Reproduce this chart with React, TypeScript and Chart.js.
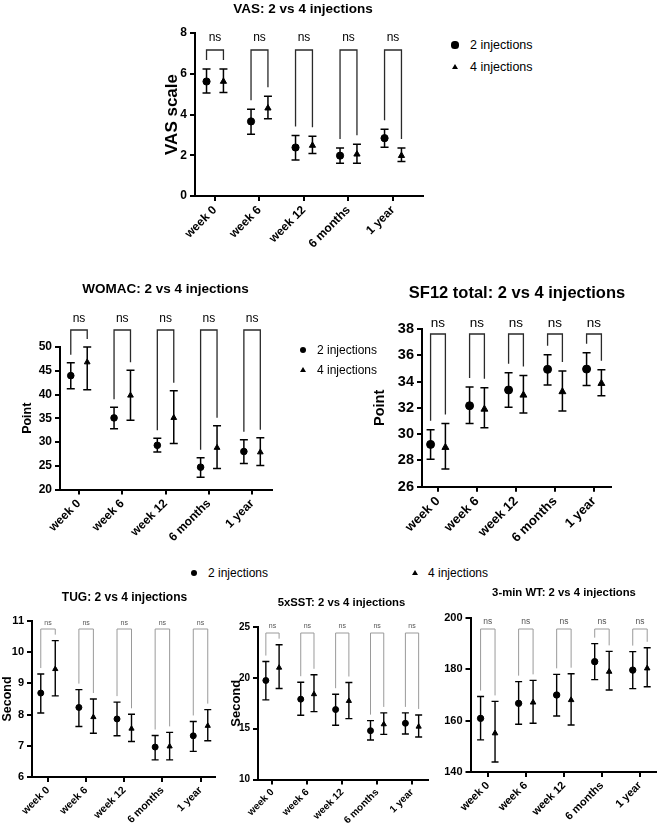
import React, { useEffect, useRef } from "react";
import { Chart, registerables } from "chart.js";

Chart.register(...registerables);

const FONT = "'Liberation Sans', Arial, Helvetica, sans-serif";
Chart.defaults.font.family = FONT;
Chart.defaults.color = "#000";

// ---------- data ----------
const categories = ["week 0", "week 6", "week 12", "6 months", "1 year"];
const seriesLabels = ["2 injections", "4 injections"];
const sigLabels = ["ns", "ns", "ns", "ns", "ns"];

// VAS
const vasTwoMean = [5.62, 3.66, 2.38, 1.98, 2.84];
const vasTwoLow = [5.05, 3.03, 1.77, 1.61, 2.39];
const vasTwoHigh = [6.23, 4.26, 2.97, 2.36, 3.28];
const vasFourMean = [5.62, 4.31, 2.48, 2.05, 1.98];
const vasFourLow = [5.08, 3.79, 2.08, 1.61, 1.69];
const vasFourHigh = [6.23, 4.89, 2.93, 2.54, 2.36];

// WOMAC
const womacTwoMean = [43.97, 35.07, 29.3, 24.7, 28.0];
const womacTwoLow = [41.2, 32.8, 27.9, 22.6, 25.5];
const womacTwoHigh = [46.7, 37.3, 30.8, 26.7, 30.5];
const womacFourMean = [46.8, 39.8, 35.1, 28.8, 27.85];
const womacFourLow = [41.0, 34.6, 29.7, 24.4, 25.05];
const womacFourHigh = [50.0, 45.1, 40.8, 33.4, 30.9];

// SF12 total
const sfTwoMean = [29.22, 32.16, 33.36, 34.93, 34.95];
const sfTwoLow = [28.08, 30.8, 32.04, 33.74, 33.71];
const sfTwoHigh = [30.33, 33.58, 34.68, 36.05, 36.2];
const sfFourMean = [28.99, 31.9, 32.97, 33.23, 33.86];
const sfFourLow = [27.34, 30.49, 31.6, 31.76, 32.92];
const sfFourHigh = [30.8, 33.53, 34.47, 34.8, 34.9];

// TUG
const tugTwoMean = [8.69, 8.23, 7.86, 6.96, 7.32];
const tugTwoLow = [8.05, 7.62, 7.32, 6.55, 6.82];
const tugTwoHigh = [9.3, 8.8, 8.4, 7.33, 7.78];
const tugFourMean = [9.46, 7.92, 7.55, 6.98, 7.64];
const tugFourLow = [8.6, 7.4, 7.14, 6.55, 7.16];
const tugFourHigh = [10.37, 8.5, 8.01, 7.43, 8.16];

// 5xSST
const sstTwoMean = [19.74, 17.9, 16.88, 14.8, 15.53];
const sstTwoLow = [17.83, 16.32, 15.33, 13.88, 14.47];
const sstTwoHigh = [21.6, 19.57, 18.39, 15.79, 16.55];
const sstFourMean = [21.0, 18.39, 17.73, 15.43, 15.2];
const sstFourLow = [18.95, 16.68, 15.99, 14.44, 14.18];
const sstFourHigh = [23.26, 20.3, 19.54, 16.55, 16.35];

// 3-min WT
const wtTwoMean = [160.9, 166.75, 170.0, 183.0, 179.7];
const wtTwoLow = [152.5, 158.6, 161.8, 176.0, 172.5];
const wtTwoHigh = [169.4, 175.2, 178.05, 190.0, 186.9];
const wtFourMean = [155.1, 167.1, 168.05, 179.1, 180.4];
const wtFourLow = [143.9, 159.0, 158.3, 171.95, 173.2];
const wtFourHigh = [167.5, 175.7, 178.3, 187.0, 188.4];

// ---------- layout ----------
const DODGE = 0.19;

type Series = { mean: number[]; low: number[]; high: number[] };
type Box = { left: number; top: number; width: number; height: number };
type Area = { left: number; right: number; top: number; bottom: number };

interface PanelSpec {
  id: string;
  title: string;
  yTitle?: string;
  two: Series;
  four: Series;
  yMin: number;
  yMax: number;
  yStep: number;
  xMin: number;
  xMax: number;
  canvas: Box;
  area: Area;
  titleX: number;
  titleY: number;
  titleSize: number;
  yTitleX: number;
  yTitleSize: number;
  yTickSize: number;
  xTickSize: number;
  bracketTop: number;
  nsY: number;
  legGap: number;
  bracketColor: string;
  bracketWidth: number;
  nsSize: number;
  nsColor: string;
  pointRadius: number;
  capHalf: number;
  errWidth: number;
  axisWidth: number;
}

const topStyle = {
  bracketColor: "#2a2a2a",
  bracketWidth: 1.3,
  nsColor: "#000",
  capHalf: 4,
  errWidth: 1.5,
  axisWidth: 2,
  legGap: 9,
};
const bottomStyle = {
  bracketColor: "#9a9a9a",
  bracketWidth: 1,
  nsColor: "#555",
  capHalf: 3.5,
  errWidth: 1.4,
  axisWidth: 2,
  legGap: 6,
};

const panels: PanelSpec[] = [
  {
    id: "vas",
    title: "VAS: 2 vs 4 injections",
    yTitle: "VAS scale",
    two: { mean: vasTwoMean, low: vasTwoLow, high: vasTwoHigh },
    four: { mean: vasFourMean, low: vasFourLow, high: vasFourHigh },
    yMin: 0, yMax: 8, yStep: 2,
    xMin: -0.449, xMax: 4.674,
    canvas: { left: 150, top: 0, width: 300, height: 262 },
    area: { left: 195, right: 423, top: 33, bottom: 196 },
    titleX: 303, titleY: 9, titleSize: 13.5,
    yTitleX: 172, yTitleSize: 17,
    yTickSize: 12, xTickSize: 12,
    bracketTop: 17, nsY: 5, nsSize: 12,
    pointRadius: 3.6,
    ...topStyle,
  },
  {
    id: "womac",
    title: "WOMAC: 2 vs 4 injections",
    yTitle: "Point",
    two: { mean: womacTwoMean, low: womacTwoLow, high: womacTwoHigh },
    four: { mean: womacFourMean, low: womacFourLow, high: womacFourHigh },
    yMin: 20, yMax: 50, yStep: 5,
    xMin: -0.439, xMax: 4.46,
    canvas: { left: 0, top: 270, width: 300, height: 290 },
    area: { left: 60, right: 272, top: 347, bottom: 489.5 },
    titleX: 165.5, titleY: 289, titleSize: 13.5,
    yTitleX: 28, yTitleSize: 12.5,
    yTickSize: 12, xTickSize: 12,
    bracketTop: -17, nsY: -28, nsSize: 12,
    pointRadius: 3.3,
    ...topStyle,
    legGap: 8,
  },
  {
    id: "sf12",
    title: "SF12 total: 2 vs 4 injections",
    yTitle: "Point",
    two: { mean: sfTwoMean, low: sfTwoLow, high: sfTwoHigh },
    four: { mean: sfFourMean, low: sfFourLow, high: sfFourHigh },
    yMin: 26, yMax: 38, yStep: 2,
    xMin: -0.41, xMax: 4.436,
    canvas: { left: 340, top: 270, width: 300, height: 290 },
    area: { left: 422, right: 611, top: 329, bottom: 486.7 },
    titleX: 517, titleY: 293, titleSize: 16.5,
    yTitleX: 380, yTitleSize: 14.5,
    yTickSize: 14.5, xTickSize: 13,
    bracketTop: 5, nsY: -6, nsSize: 13.5,
    pointRadius: 4,
    ...topStyle,
  },
  {
    id: "tug",
    title: "TUG: 2 vs 4 injections",
    yTitle: "Second",
    two: { mean: tugTwoMean, low: tugTwoLow, high: tugTwoHigh },
    four: { mean: tugFourMean, low: tugFourLow, high: tugFourHigh },
    yMin: 6, yMax: 11, yStep: 1,
    xMin: -0.42, xMax: 4.38,
    canvas: { left: 0, top: 580, width: 225, height: 247 },
    area: { left: 32, right: 215, top: 621, bottom: 777 },
    titleX: 124.5, titleY: 598, titleSize: 12,
    yTitleX: 8, yTitleSize: 12.5,
    yTickSize: 11, xTickSize: 10.5,
    bracketTop: 8, nsY: 2, nsSize: 7,
    pointRadius: 3,
    ...bottomStyle,
  },
  {
    id: "sst",
    title: "5xSST: 2 vs 4 injections",
    yTitle: "Second",
    two: { mean: sstTwoMean, low: sstTwoLow, high: sstTwoHigh },
    four: { mean: sstFourMean, low: sstFourLow, high: sstFourHigh },
    yMin: 10, yMax: 25, yStep: 5,
    xMin: -0.415, xMax: 4.458,
    canvas: { left: 225, top: 580, width: 215, height: 247 },
    area: { left: 258, right: 428, top: 627, bottom: 779.5 },
    titleX: 341.5, titleY: 603, titleSize: 11.3,
    yTitleX: 236, yTitleSize: 13,
    yTickSize: 10, xTickSize: 10,
    bracketTop: 6, nsY: -1, nsSize: 7,
    pointRadius: 3,
    ...bottomStyle,
  },
  {
    id: "wt",
    title: "3-min WT: 2 vs 4 injections",
    two: { mean: wtTwoMean, low: wtTwoLow, high: wtTwoHigh },
    four: { mean: wtFourMean, low: wtFourLow, high: wtFourHigh },
    yMin: 140, yMax: 200, yStep: 20,
    xMin: -0.455, xMax: 4.416,
    canvas: { left: 440, top: 580, width: 220, height: 247 },
    area: { left: 470.5, right: 658, top: 618, bottom: 772 },
    titleX: 564, titleY: 593, titleSize: 11.3,
    yTitleX: 0, yTitleSize: 12,
    yTickSize: 11, xTickSize: 11,
    bracketTop: 11, nsY: 4, nsSize: 8.5,
    pointRadius: 3.2,
    ...bottomStyle,
  },
];

function makeDecor(spec: PanelSpec) {
  return {
    id: "decor_" + spec.id,
    beforeDatasetsDraw(chart: any) {
      const { ctx } = chart;
      const xs = chart.scales.x;
      const ys = chart.scales.y;
      ctx.save();
      ctx.strokeStyle = "#000";
      ctx.lineWidth = spec.errWidth;
      chart.data.datasets.forEach((ds: any) => {
        ds.data.forEach((p: any, i: number) => {
          const px = xs.getPixelForValue(p.x);
          const yh = ys.getPixelForValue(ds.errHigh[i]);
          const yl = ys.getPixelForValue(ds.errLow[i]);
          ctx.beginPath();
          ctx.moveTo(px, yh);
          ctx.lineTo(px, yl);
          ctx.moveTo(px - spec.capHalf, yh);
          ctx.lineTo(px + spec.capHalf, yh);
          ctx.moveTo(px - spec.capHalf, yl);
          ctx.lineTo(px + spec.capHalf, yl);
          ctx.stroke();
        });
      });
      ctx.restore();
    },
    afterDraw(chart: any) {
      const { ctx, chartArea } = chart;
      const xs = chart.scales.x;
      const ys = chart.scales.y;
      const [a, b] = chart.data.datasets as any[];
      ctx.save();
      const topY = chartArea.top + spec.bracketTop;
      sigLabels.forEach((lab, i) => {
        const lx = xs.getPixelForValue(a.data[i].x);
        const rx = xs.getPixelForValue(b.data[i].x);
        const lb = Math.max(topY + 2, ys.getPixelForValue(a.errHigh[i]) - spec.legGap);
        const rb = Math.max(topY + 2, ys.getPixelForValue(b.errHigh[i]) - spec.legGap);
        ctx.strokeStyle = spec.bracketColor;
        ctx.lineWidth = spec.bracketWidth;
        ctx.beginPath();
        ctx.moveTo(lx, lb);
        ctx.lineTo(lx, topY);
        ctx.lineTo(rx, topY);
        ctx.lineTo(rx, rb);
        ctx.stroke();
        ctx.fillStyle = spec.nsColor;
        ctx.font = `${spec.nsSize}px ${FONT}`;
        ctx.textAlign = "center";
        ctx.textBaseline = "middle";
        ctx.fillText(lab, (lx + rx) / 2, chartArea.top + spec.nsY);
      });
      ctx.fillStyle = "#000";
      ctx.textAlign = "center";
      ctx.textBaseline = "middle";
      ctx.font = `bold ${spec.titleSize}px ${FONT}`;
      ctx.fillText(spec.title, spec.titleX - spec.canvas.left, spec.titleY - spec.canvas.top);
      if (spec.yTitle) {
        ctx.save();
        ctx.translate(spec.yTitleX - spec.canvas.left, (chartArea.top + chartArea.bottom) / 2);
        ctx.rotate(-Math.PI / 2);
        ctx.font = `bold ${spec.yTitleSize}px ${FONT}`;
        ctx.fillText(spec.yTitle, 0, 0);
        ctx.restore();
      }
      ctx.restore();
    },
  };
}

function PanelChart({ spec }: { spec: PanelSpec }) {
  const ref = useRef<HTMLCanvasElement>(null);
  useEffect(() => {
    const canvas = ref.current;
    if (!canvas) return;
    const c = spec.canvas;
    const ar = spec.area;
    const gridCfg = {
      display: true,
      drawOnChartArea: false,
      drawTicks: true,
      tickLength: 5,
      color: "#000",
      lineWidth: spec.axisWidth,
    };
    const borderCfg = { display: true, color: "#000", width: spec.axisWidth };
    const mk = (s: Series, shift: number, style: string, label: string) => ({
      label,
      data: s.mean.map((m, i) => ({ x: i + shift, y: m })),
      errLow: s.low,
      errHigh: s.high,
      pointStyle: style,
      pointRadius: spec.pointRadius,
      pointHoverRadius: spec.pointRadius,
      backgroundColor: "#000",
      borderColor: "#000",
      borderWidth: 1,
      showLine: false,
    });
    const chart = new Chart(canvas, {
      type: "scatter",
      data: {
        datasets: [
          mk(spec.two, -DODGE, "circle", seriesLabels[0]),
          mk(spec.four, DODGE, "triangle", seriesLabels[1]),
        ] as any,
      },
      options: {
        responsive: false,
        animation: false,
        devicePixelRatio: 1,
        events: [],
        layout: {
          padding: {
            left: 0,
            right: c.left + c.width - ar.right,
            top: ar.top - c.top,
            bottom: 0,
          },
        },
        plugins: {
          legend: { display: false },
          tooltip: { enabled: false },
          title: { display: false },
        },
        scales: {
          x: {
            type: "linear",
            min: spec.xMin,
            max: spec.xMax,
            afterFit: (s: any) => {
              s.height = c.top + c.height - ar.bottom;
            },
            afterBuildTicks: (s: any) => {
              s.ticks = categories.map((_, i) => ({ value: i }));
            },
            ticks: {
              autoSkip: false,
              minRotation: 45,
              maxRotation: 45,
              padding: 2,
              color: "#000",
              font: { size: spec.xTickSize, weight: "bold", family: FONT },
              callback: (v: any) => categories[Math.round(Number(v))] ?? "",
            },
            grid: gridCfg,
            border: borderCfg,
          },
          y: {
            min: spec.yMin,
            max: spec.yMax,
            afterFit: (s: any) => {
              s.width = ar.left - c.left;
            },
            ticks: {
              stepSize: spec.yStep,
              padding: 3,
              color: "#000",
              font: { size: spec.yTickSize, weight: "bold", family: FONT },
            },
            grid: gridCfg,
            border: borderCfg,
          },
        },
      } as any,
      plugins: [makeDecor(spec)],
    });
    return () => chart.destroy();
  }, [spec]);
  const c = spec.canvas;
  return (
    <canvas
      ref={ref}
      width={c.width}
      height={c.height}
      style={{ position: "absolute", left: c.left, top: c.top, width: c.width, height: c.height }}
    />
  );
}

function LegendItem(props: {
  cx: number;
  cy: number;
  tx: number;
  shape: "circle" | "triangle";
  label: string;
  size: number;
  r: number;
}) {
  const { cx, cy, tx, shape, label, size, r } = props;
  const marker =
    shape === "circle" ? (
      <div
        style={{
          position: "absolute",
          left: cx - r,
          top: cy - r,
          width: 2 * r,
          height: 2 * r,
          borderRadius: "50%",
          background: "#000",
        }}
      />
    ) : (
      <div
        style={{
          position: "absolute",
          left: cx - r,
          top: cy - r * 0.9,
          width: 0,
          height: 0,
          borderLeft: `${r}px solid transparent`,
          borderRight: `${r}px solid transparent`,
          borderBottom: `${r * 1.7}px solid #000`,
        }}
      />
    );
  return (
    <>
      {marker}
      <div
        style={{
          position: "absolute",
          left: tx,
          top: cy - size * 0.6,
          fontSize: size,
          lineHeight: `${size * 1.2}px`,
          whiteSpace: "nowrap",
          color: "#000",
          fontFamily: FONT,
        }}
      >
        {label}
      </div>
    </>
  );
}

export default function App() {
  return (
    <div
      style={{
        position: "absolute",
        left: 0,
        top: 0,
        width: 660,
        height: 827,
        background: "#fff",
        overflow: "hidden",
        fontFamily: FONT,
      }}
    >
      {panels.map((p) => (
        <PanelChart key={p.id} spec={p} />
      ))}
      {/* VAS legend */}
      <LegendItem cx={455} cy={45} tx={470} shape="circle" label={seriesLabels[0]} size={12.5} r={3.6} />
      <LegendItem cx={455} cy={67} tx={470} shape="triangle" label={seriesLabels[1]} size={12.5} r={3.4} />
      {/* WOMAC legend */}
      <LegendItem cx={303} cy={350} tx={317} shape="circle" label={seriesLabels[0]} size={12} r={3.4} />
      <LegendItem cx={303} cy={370} tx={317} shape="triangle" label={seriesLabels[1]} size={12} r={3.2} />
      {/* shared legend for bottom row */}
      <LegendItem cx={194} cy={573} tx={208} shape="circle" label={seriesLabels[0]} size={12} r={3.4} />
      <LegendItem cx={415} cy={573} tx={428} shape="triangle" label={seriesLabels[1]} size={12} r={3.2} />
    </div>
  );
}
